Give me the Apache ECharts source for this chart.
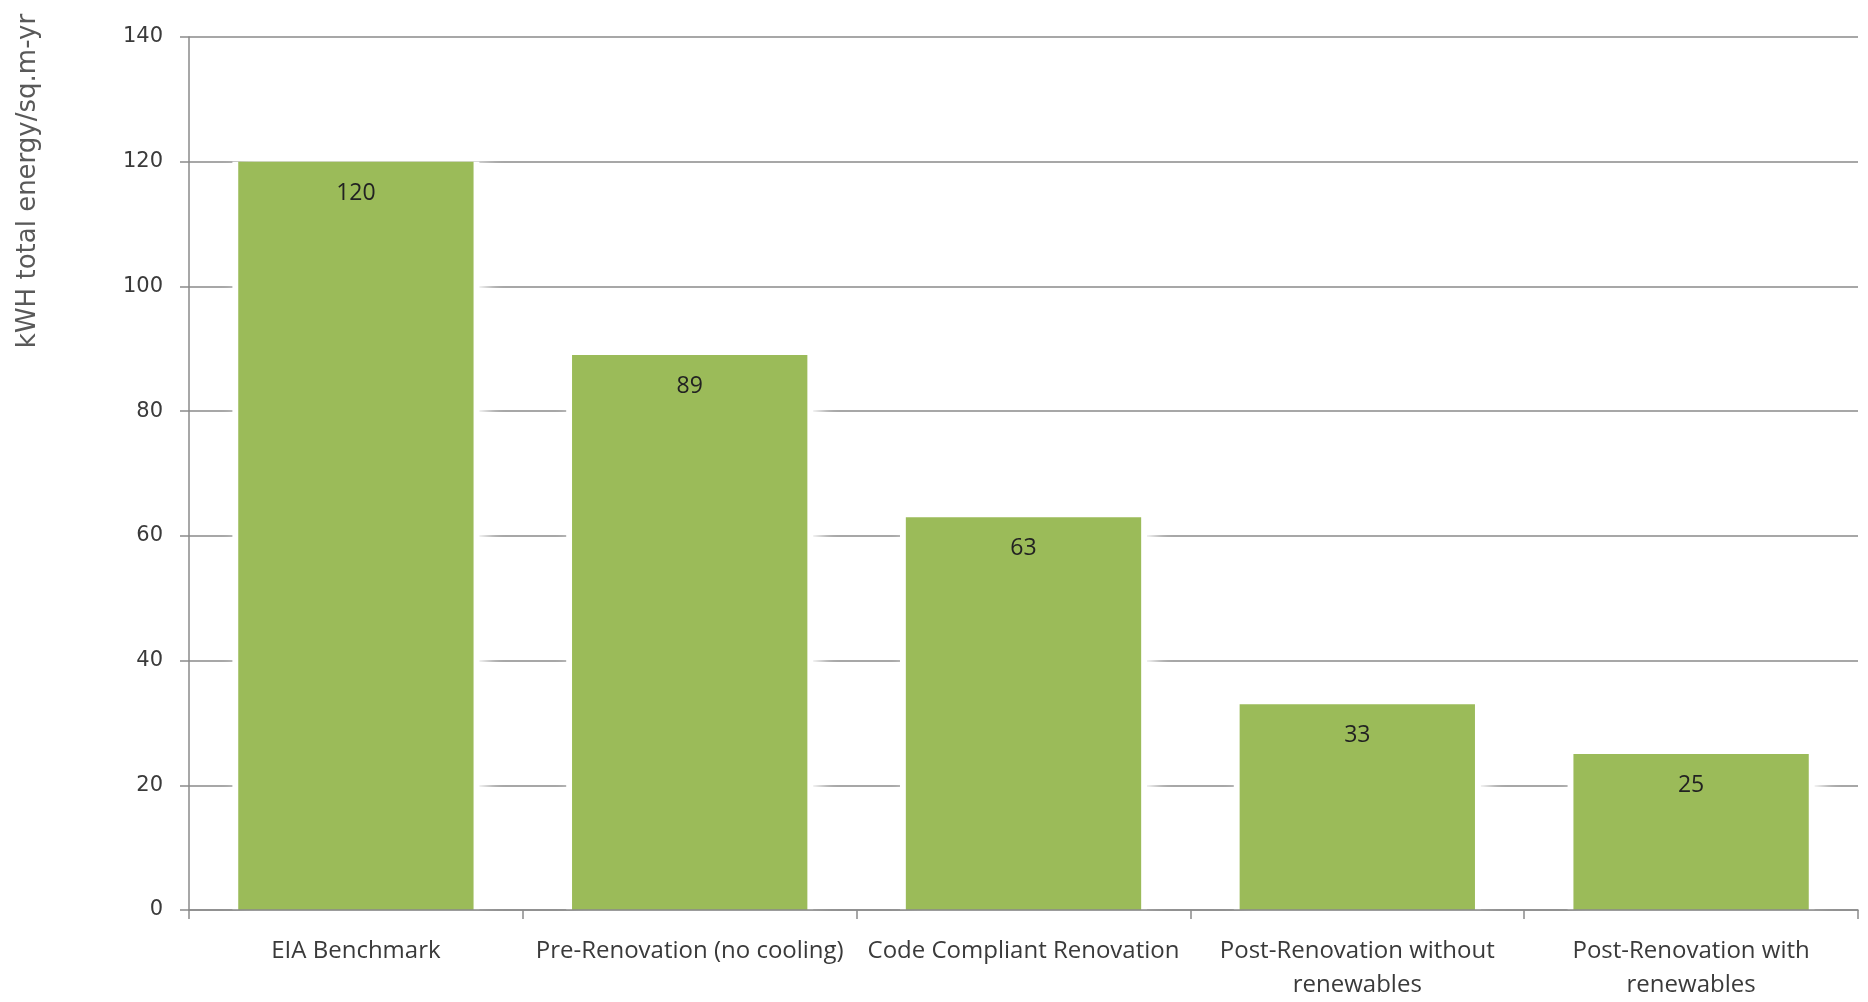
<!DOCTYPE html>
<html>
<head>
<meta charset="utf-8">
<title>Energy use intensity</title>
<script src="https://cdn.jsdelivr.net/npm/echarts@6/dist/echarts.min.js"></script>
<style>
  html, body { margin: 0; padding: 0; background: #ffffff; }
  #chart { width: 1868px; height: 1002px; }
</style>
</head>
<body>
<div id="chart"></div>
<script>
// Energy use by scenario, kWh total energy per square metre per year
const categories = [
  'EIA Benchmark',
  'Pre-Renovation (no cooling)',
  'Code Compliant Renovation',
  'Post-Renovation without\nrenewables',
  'Post-Renovation with\nrenewables'
];
const energyValues = [120, 89, 63, 33, 25];
const yTicks = [0, 20, 40, 60, 80, 100, 120, 140];
const yAxisTitle = 'kWH total energy/sq.m-yr';

const chart = echarts.init(document.getElementById('chart'), null, { renderer: 'canvas' });

const gridColor = '#8a8a8a';
const textColor = '#3a3a3a';

chart.setOption({
  backgroundColor: '#ffffff',
  animation: false,
  grid: { left: 189, right: 10, top: 37, bottom: 85, containLabel: false },
  xAxis: [{
    type: 'category',
    data: categories,
    z: 3,
    axisLine: { lineStyle: { color: gridColor, width: 1.5 } },
    axisTick: { show: true, length: 9, lineStyle: { color: gridColor, width: 1.5 } },
    axisLabel: {
      interval: 0,
      margin: 24,
      color: textColor,
      fontFamily: '"Open Sans", "Noto Sans", sans-serif',
      fontSize: 24,
      lineHeight: 34
    }
  }, {
    // companion axis so the white halo behind each bar centres on its own
    type: 'category',
    data: categories,
    show: false
  }],
  yAxis: {
    type: 'value',
    min: yTicks[0],
    max: yTicks[yTicks.length - 1],
    interval: yTicks[1] - yTicks[0],
    axisLine: { show: true, lineStyle: { color: gridColor, width: 1.5 } },
    axisTick: { show: true, length: 9, lineStyle: { color: gridColor, width: 1.5 } },
    axisLabel: {
      margin: 26,
      color: textColor,
      fontFamily: '"DejaVu Sans", sans-serif',
      fontSize: 21
    },
    splitLine: { show: true, lineStyle: { color: gridColor, width: 1.5 } }
  },
  graphic: [{
    type: 'text',
    x: 28,
    y: 181,
    rotation: Math.PI / 2,
    style: {
      text: yAxisTitle,
      fill: '#595959',
      font: '26px "DejaVu Sans", sans-serif',
      align: 'center',
      verticalAlign: 'middle'
    }
  }],
  series: [{
    // soft white glow that interrupts the gridlines around each bar
    type: 'bar',
    xAxisIndex: 1,
    data: energyValues,
    barWidth: 247,
    silent: true,
    label: { show: false },
    itemStyle: {
      color: '#ffffff',
      shadowColor: '#ffffff',
      shadowBlur: 16,
      shadowOffsetX: 8
    }
  }, {
    type: 'bar',
    xAxisIndex: 0,
    data: energyValues,
    barCategoryGap: '29.5%',
    itemStyle: { color: '#9bbb59' },
    label: {
      show: true,
      position: 'insideTop',
      distance: 20,
      color: '#222222',
      fontFamily: '"Open Sans", "Noto Sans", sans-serif',
      fontSize: 23
    }
  }]
});
</script>
</body>
</html>
